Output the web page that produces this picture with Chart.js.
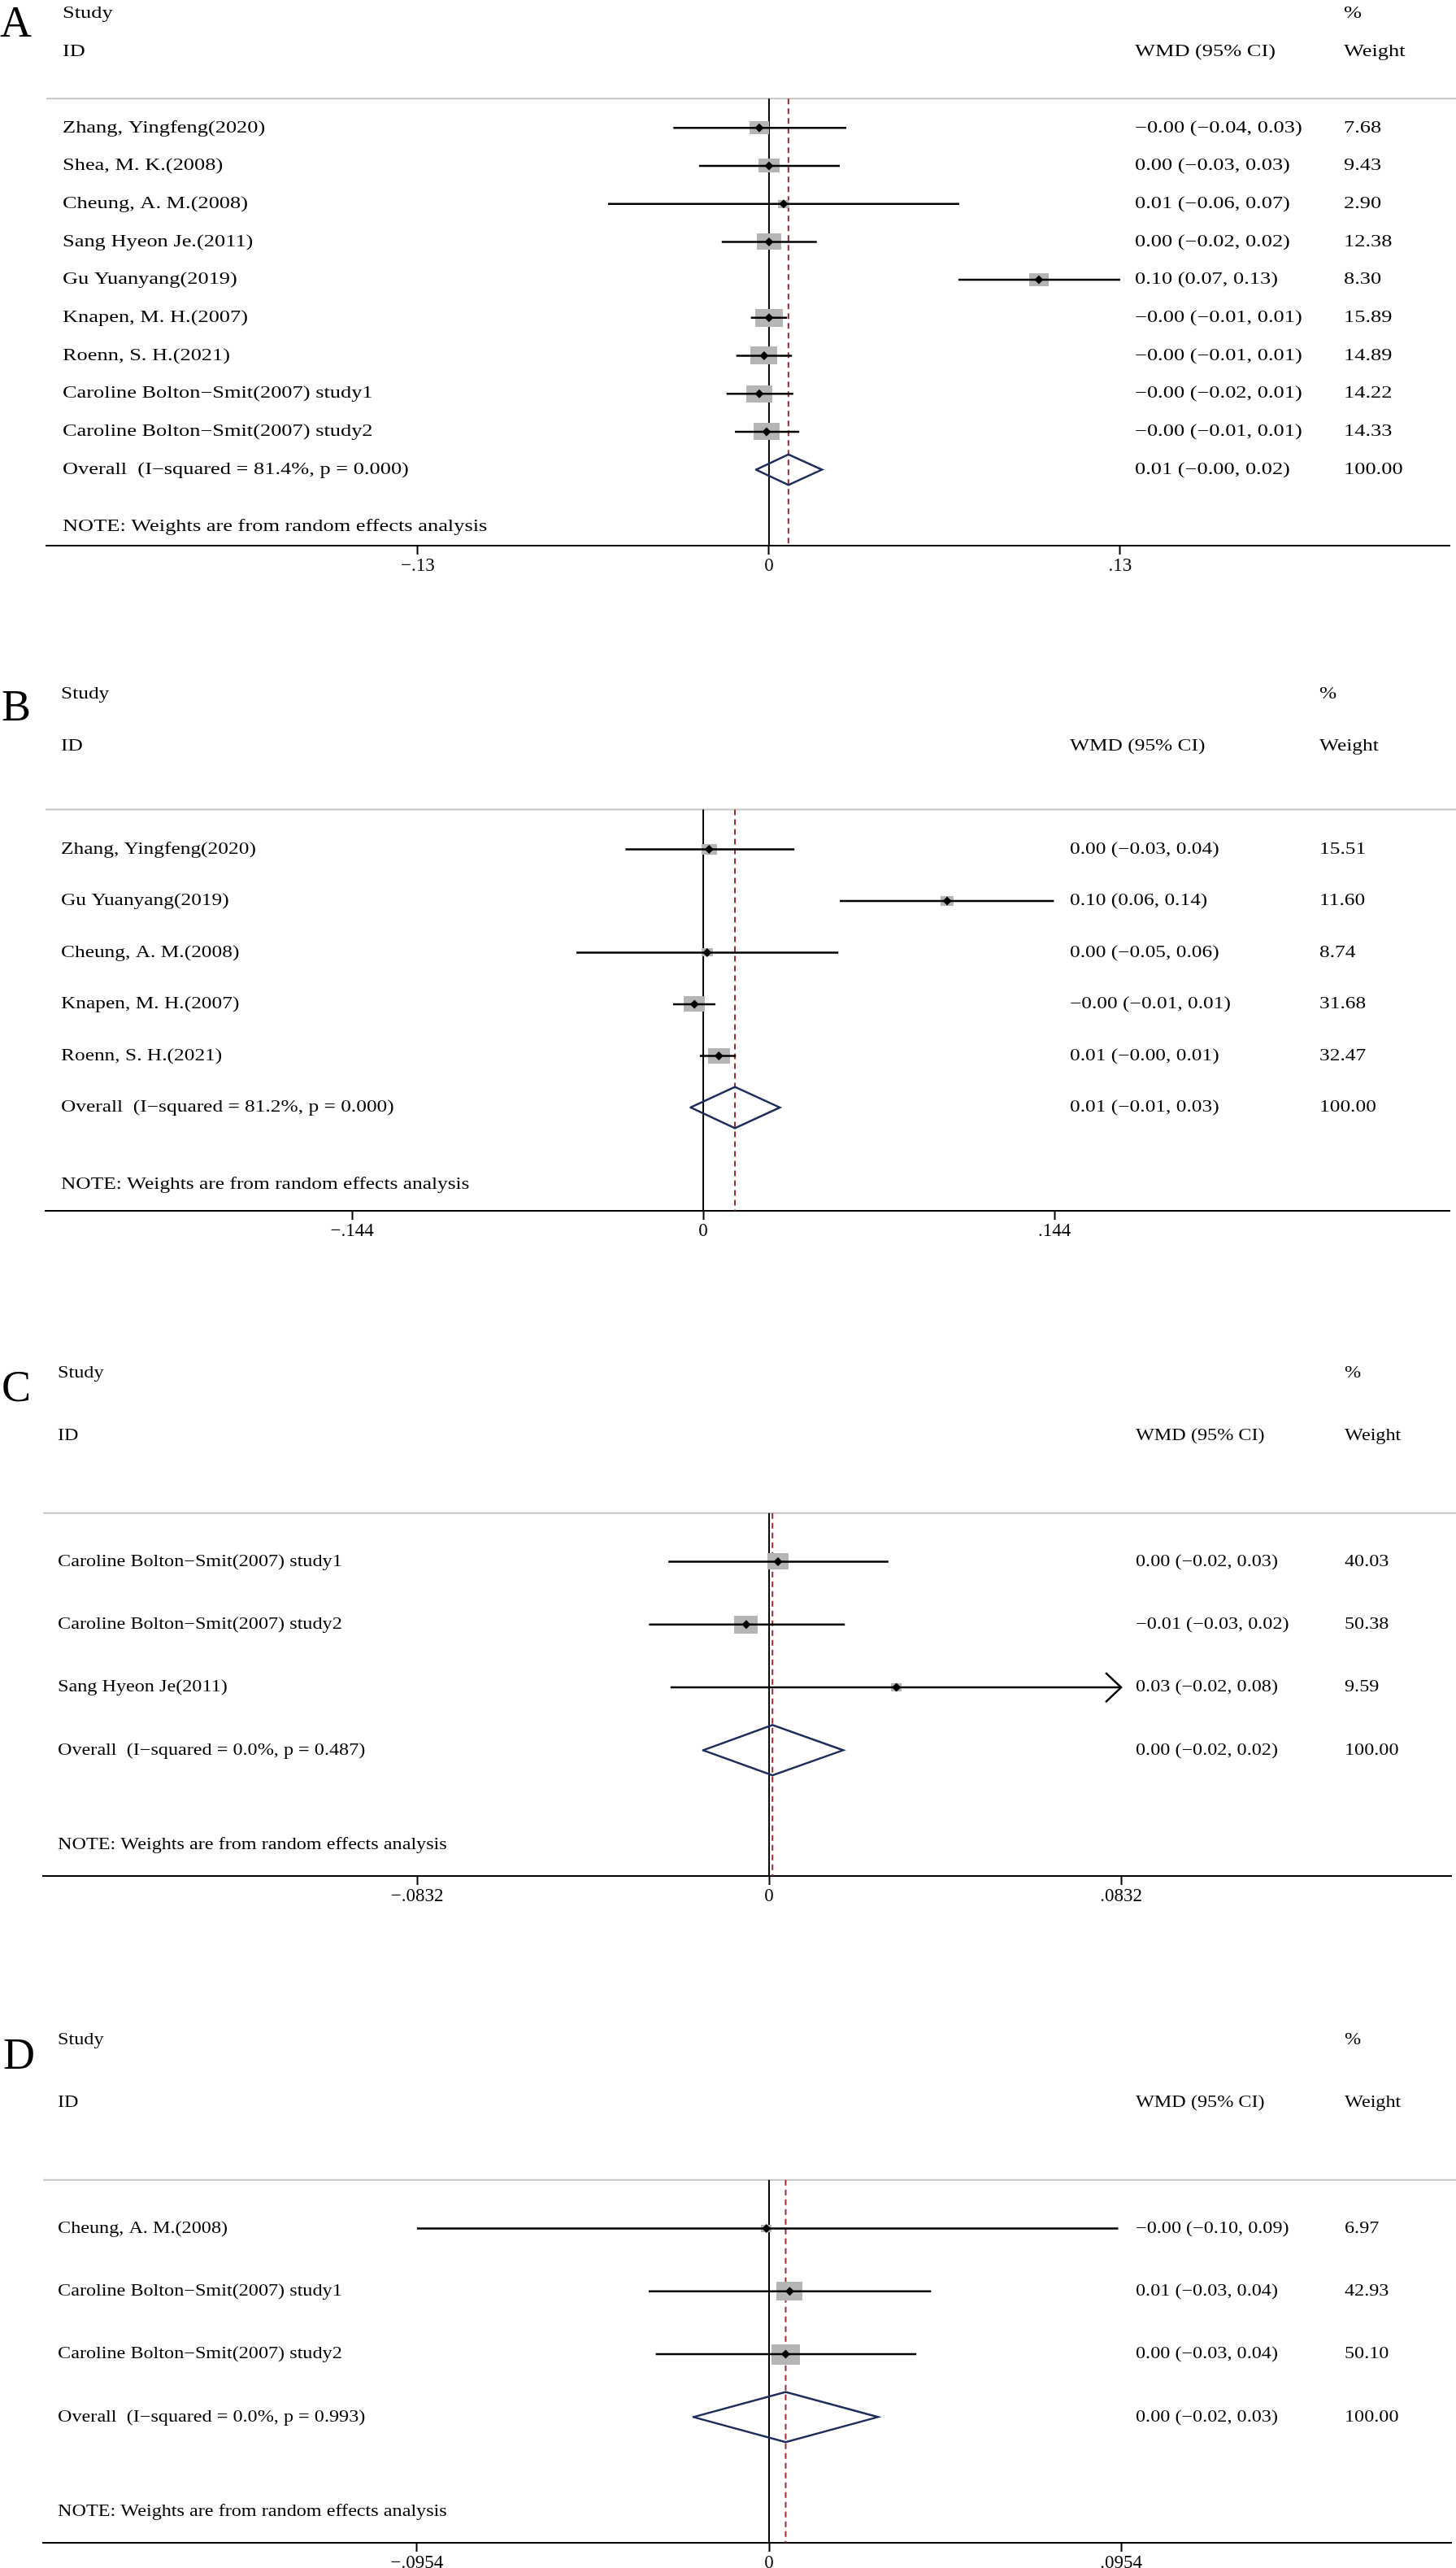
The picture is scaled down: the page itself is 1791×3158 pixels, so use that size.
<!DOCTYPE html>
<html>
<head>
<meta charset="utf-8">
<script src="https://cdn.jsdelivr.net/npm/chart.js@4.4.1/dist/chart.umd.min.js"></script>
<style>
	html, body { margin: 0; padding: 0; background: #fff; }
	body { width: 1791px; height: 3158px; position: relative; overflow: hidden; }
	canvas { position: absolute; left: 0; }
</style>
</head>
<body>
<canvas id="chartA" width="1791" height="718" style="top:-7px"></canvas>
<canvas id="chartB" width="1791" height="706" style="top:823px"></canvas>
<canvas id="chartC" width="1791" height="695" style="top:1652px"></canvas>
<canvas id="chartD" width="1791" height="686" style="top:2472px"></canvas>
<script>
// ---- panel A ----
const studiesA = ["Zhang, Yingfeng(2020)", "Shea, M. K.(2008)", "Cheung, A. M.(2008)", "Sang Hyeon Je.(2011)", "Gu Yuanyang(2019)", "Knapen, M. H.(2007)", "Roenn, S. H.(2021)", "Caroline Bolton\u2212Smit(2007) study1", "Caroline Bolton\u2212Smit(2007) study2"];
const estA = [-0.0036, 0.0, 0.0054, 0.0, 0.0999, 0.0, -0.0018, -0.0036, -0.0009];
const lowA = [-0.0354, -0.0259, -0.0596, -0.0175, 0.0701, -0.0067, -0.0121, -0.0157, -0.0126];
const highA = [0.0286, 0.0262, 0.0704, 0.0177, 0.130, 0.0067, 0.0085, 0.0090, 0.0112];
const weightA = [7.68, 9.43, 2.90, 12.38, 8.30, 15.89, 14.89, 14.22, 14.33];
const wmdA = ["\u22120.00 (\u22120.04, 0.03)", "0.00 (\u22120.03, 0.03)", "0.01 (\u22120.06, 0.07)", "0.00 (\u22120.02, 0.02)", "0.10 (0.07, 0.13)", "\u22120.00 (\u22120.01, 0.01)", "\u22120.00 (\u22120.01, 0.01)", "\u22120.00 (\u22120.02, 0.01)", "\u22120.00 (\u22120.01, 0.01)"];
const overallA = [-0.0048, 0.0072, 0.0196];
const overallTextA = ["Overall  (I\u2212squared = 81.4%, p = 0.000)", "0.01 (\u22120.00, 0.02)", "100.00"];
const ticksA = [-0.13, 0, 0.13];
const tickLabelsA = ["\u2212.13", "0", ".13"];

// ---- panel B ----
const studiesB = ["Zhang, Yingfeng(2020)", "Gu Yuanyang(2019)", "Cheung, A. M.(2008)", "Knapen, M. H.(2007)", "Roenn, S. H.(2021)"];
const estB = [0.0024, 0.1000, 0.0016, -0.0036, 0.0064];
const lowB = [-0.0319, 0.0560, -0.0520, -0.0124, -0.0014];
const highB = [0.0374, 0.1438, 0.0554, 0.0050, 0.0134];
const weightB = [15.51, 11.60, 8.74, 31.68, 32.47];
const wmdB = ["0.00 (\u22120.03, 0.04)", "0.10 (0.06, 0.14)", "0.00 (\u22120.05, 0.06)", "\u22120.00 (\u22120.01, 0.01)", "0.01 (\u22120.00, 0.01)"];
const overallB = [-0.0052, 0.0130, 0.0314];
const overallTextB = ["Overall  (I\u2212squared = 81.2%, p = 0.000)", "0.01 (\u22120.01, 0.03)", "100.00"];
const ticksB = [-0.144, 0, 0.144];
const tickLabelsB = ["\u2212.144", "0", ".144"];

// ---- panel C ----
const studiesC = ["Caroline Bolton\u2212Smit(2007) study1", "Caroline Bolton\u2212Smit(2007) study2", "Sang Hyeon Je(2011)"];
const estC = [0.0021, -0.0054, 0.0301];
const lowC = [-0.0238, -0.0284, -0.0233];
const highC = [0.0282, 0.0179, 0.0840];
const weightC = [40.03, 50.38, 9.59];
const wmdC = ["0.00 (\u22120.02, 0.03)", "\u22120.01 (\u22120.03, 0.02)", "0.03 (\u22120.02, 0.08)"];
const overallC = [-0.0156, 0.0008, 0.0175];
const overallTextC = ["Overall  (I\u2212squared = 0.0%, p = 0.487)", "0.00 (\u22120.02, 0.02)", "100.00"];
const ticksC = [-0.0832, 0, 0.0832];
const tickLabelsC = ["\u2212.0832", "0", ".0832"];

// ---- panel D ----
const studiesD = ["Cheung, A. M.(2008)", "Caroline Bolton\u2212Smit(2007) study1", "Caroline Bolton\u2212Smit(2007) study2"];
const estD = [-0.0007, 0.0056, 0.0045];
const lowD = [-0.0954, -0.0326, -0.0307];
const highD = [0.0946, 0.0439, 0.0399];
const weightD = [6.97, 42.93, 50.10];
const wmdD = ["\u22120.00 (\u22120.10, 0.09)", "0.01 (\u22120.03, 0.04)", "0.00 (\u22120.03, 0.04)"];
const overallD = [-0.0205, 0.0045, 0.0295];
const overallTextD = ["Overall  (I\u2212squared = 0.0%, p = 0.993)", "0.00 (\u22120.02, 0.03)", "100.00"];
const ticksD = [-0.0954, 0, 0.0954];
const tickLabelsD = ["\u2212.0954", "0", ".0954"];

const FONT = '"Liberation Serif", "Times New Roman", serif';
const NOTE = "NOTE: Weights are from random effects analysis";

const panels = [
	{ id: "chartA", letter: "A", studies: studiesA, est: estA, low: lowA, high: highA, weight: weightA, wmd: wmdA,
	  overall: overallA, overallText: overallTextA, ticks: ticksA, tickLabels: tickLabelsA,
	  xMin: -0.2675, xMax: 0.2519, padLeft: 57, padRight: 8, bottom: 40,
	  labelX: 77, wmdX: 1396, wtX: 1653, stretch: 1.32, boxW: 8.5, boxH: 5.6, letterX: 0, letterRow: -2.4 },
	{ id: "chartB", letter: "B", studies: studiesB, est: estB, low: lowB, high: highB, weight: weightB, wmd: wmdB,
	  overall: overallB, overallText: overallTextB, ticks: ticksB, tickLabels: tickLabelsB,
	  xMin: -0.2697, xMax: 0.306, padLeft: 56, padRight: 8, bottom: 40,
	  labelX: 75, wmdX: 1316, wtX: 1623, stretch: 1.27, boxW: 4.7, boxH: 3.4, letterX: 2, letterRow: -2.49 },
	{ id: "chartC", letter: "C", studies: studiesC, est: estC, low: lowC, high: highC, weight: weightC, wmd: wmdC,
	  overall: overallC, overallText: overallTextC, ticks: ticksC, tickLabels: tickLabelsC,
	  xMin: -0.1716, xMax: 0.1612, padLeft: 53, padRight: 6, bottom: 40,
	  labelX: 71, wmdX: 1397, wtX: 1654, stretch: 1.21, boxW: 4.15, boxH: 3.1, letterX: 2, letterRow: -2.55 },
	{ id: "chartD", letter: "D", studies: studiesD, est: estD, low: lowD, high: highD, weight: weightD, wmd: wmdD,
	  overall: overallD, overallText: overallTextD, ticks: ticksD, tickLabels: tickLabelsD,
	  xMin: -0.1967, xMax: 0.1848, padLeft: 53, padRight: 6, bottom: 31,
	  labelX: 71, wmdX: 1397, wtX: 1654, stretch: 1.21, boxW: 4.9, boxH: 3.55, letterX: 4, letterRow: -2.54 },
];

const SEP_ROW = -0.77;

function boxImage(w, h) {
	const c = document.createElement("canvas");
	c.width = Math.max(2, Math.round(w));
	c.height = Math.max(2, Math.round(h));
	const g = c.getContext("2d");
	g.fillStyle = "#b5b5b5";
	g.fillRect(0, 0, c.width, c.height);
	return c;
}

function makeChart(p) {
	const oRow = p.studies.length;
	const n = oRow + 1;
	const rows = p.studies.map((_, i) => i);
	const tMin = Math.min(...p.ticks);
	const tMax = Math.max(...p.ticks);
	const boxes = p.weight.map((w) => boxImage(p.boxW * Math.sqrt(w), p.boxH * Math.sqrt(w)));

	const datasets = [
		// null line
		{ data: [{ x: 0, y: SEP_ROW }, { x: 0, y: n + 1 }], showLine: true, borderColor: "#000", borderWidth: 2, pointRadius: 0, order: 6 },
		// overall effect line
		{ data: [{ x: p.overall[1], y: SEP_ROW }, { x: p.overall[1], y: n + 1 }], showLine: true, borderColor: "#9e2b2b", borderWidth: 2, borderDash: [7, 5], pointRadius: 0, order: 5 },
		// weight boxes
		{ data: rows.map((i) => ({ x: p.est[i], y: i })), pointStyle: (ctx) => boxes[ctx.dataIndex], pointRadius: 1, order: 4 },
		// point estimates
		{ data: rows.map((i) => ({ x: p.est[i], y: i })), pointStyle: "rectRot", pointRadius: 5.5, backgroundColor: "#000", borderColor: "#000", borderWidth: 0, order: 2 },
		// overall diamond
		{ data: [
			{ x: p.overall[0], y: oRow }, { x: p.overall[1], y: oRow - 0.4 },
			{ x: p.overall[2], y: oRow }, { x: p.overall[1], y: oRow + 0.4 },
			{ x: p.overall[0], y: oRow },
		  ], showLine: true, borderColor: "#1f2d5c", borderWidth: 2.5, borderJoinStyle: "miter", borderCapStyle: "round", pointRadius: 0, order: 1 },
	];
	// confidence intervals
	rows.forEach((i) => {
		datasets.push({
			data: [{ x: Math.max(p.low[i], tMin), y: i }, { x: Math.min(p.high[i], tMax), y: i }],
			showLine: true, borderColor: "#000", borderWidth: 2.5, pointRadius: 0, order: 3,
		});
	});

	const forestText = {
		id: "forestText",
		beforeDatasetsDraw(chart) {
			const ctx = chart.ctx;
			const y = chart.scales.y.getPixelForValue(SEP_ROW);
			ctx.save();
			ctx.strokeStyle = "#c6c6c6";
			ctx.lineWidth = 2;
			ctx.beginPath();
			ctx.moveTo(chart.chartArea.left, y);
			ctx.lineTo(chart.width, y);
			ctx.stroke();
			ctx.restore();
		},
		afterDatasetsDraw(chart) {
			// arrows for intervals running past the axis range
			const ctx = chart.ctx, xs = chart.scales.x, ys = chart.scales.y;
			ctx.save();
			ctx.strokeStyle = "#000";
			ctx.lineWidth = 2.5;
			rows.forEach((i) => {
				const y = ys.getPixelForValue(i);
				if (p.high[i] > tMax) {
					const x = xs.getPixelForValue(tMax);
					ctx.beginPath();
					ctx.moveTo(x - 19, y - 18);
					ctx.lineTo(x, y);
					ctx.lineTo(x - 19, y + 18);
					ctx.stroke();
				}
				if (p.low[i] < tMin) {
					const x = xs.getPixelForValue(tMin);
					ctx.beginPath();
					ctx.moveTo(x + 19, y - 18);
					ctx.lineTo(x, y);
					ctx.lineTo(x + 19, y + 18);
					ctx.stroke();
				}
			});
			ctx.restore();
		},
		afterDraw(chart) {
			const ctx = chart.ctx, ys = chart.scales.y;
			const put = (s, x, r) => {
				ctx.save();
				ctx.translate(x, ys.getPixelForValue(r));
				ctx.scale(p.stretch, 1);
				ctx.fillText(s, 0, 0);
				ctx.restore();
			};
			ctx.save();
			ctx.fillStyle = "#000";
			ctx.textAlign = "left";
			ctx.textBaseline = "middle";
			ctx.font = "20px " + FONT;
			put("Study", p.labelX, -3);
			put("ID", p.labelX, -2);
			put("%", p.wtX, -3);
			put("WMD (95% CI)", p.wmdX, -2);
			put("Weight", p.wtX, -2);
			p.studies.forEach((s, i) => {
				put(s, p.labelX, i);
				put(p.wmd[i], p.wmdX, i);
				put(p.weight[i].toFixed(2), p.wtX, i);
			});
			put(p.overallText[0], p.labelX, oRow);
			put(p.overallText[1], p.wmdX, oRow);
			put(p.overallText[2], p.wtX, oRow);
			put(NOTE, p.labelX, n + 0.5);
			ctx.font = "54px " + FONT;
			ctx.textBaseline = "alphabetic";
			ctx.fillText(p.letter, p.letterX, ys.getPixelForValue(p.letterRow));
			ctx.restore();
		},
	};

	new Chart(document.getElementById(p.id), {
		type: "scatter",
		data: { datasets: datasets },
		options: {
			responsive: false,
			maintainAspectRatio: false,
			animation: false,
			events: [],
			layout: { padding: { left: p.padLeft, right: p.padRight, top: 0, bottom: 0 } },
			plugins: {
				legend: { display: false },
				tooltip: { enabled: false },
			},
			scales: {
				x: {
					type: "linear",
					position: "bottom",
					min: p.xMin,
					max: p.xMax,
					afterBuildTicks: (scale) => {
						scale.ticks = p.ticks.map((v) => ({ value: v }));
					},
					afterFit: (scale) => {
						scale.height = p.bottom;
					},
					ticks: {
						autoSkip: false,
						maxRotation: 0,
						padding: 0,
						color: "#000",
						font: { family: FONT, size: 23 },
						callback: (value, index) => p.tickLabels[index],
					},
					grid: {
						display: true,
						drawOnChartArea: false,
						drawTicks: true,
						tickLength: 11,
						tickWidth: 2,
						tickColor: "#000",
					},
					border: { display: true, color: "#000", width: 2 },
				},
				y: {
					type: "linear",
					display: false,
					reverse: true,
					min: -3.4,
					max: n + 1,
				},
			},
		},
		plugins: [forestText],
	});
}

panels.forEach(makeChart);
</script>
</body>
</html>
